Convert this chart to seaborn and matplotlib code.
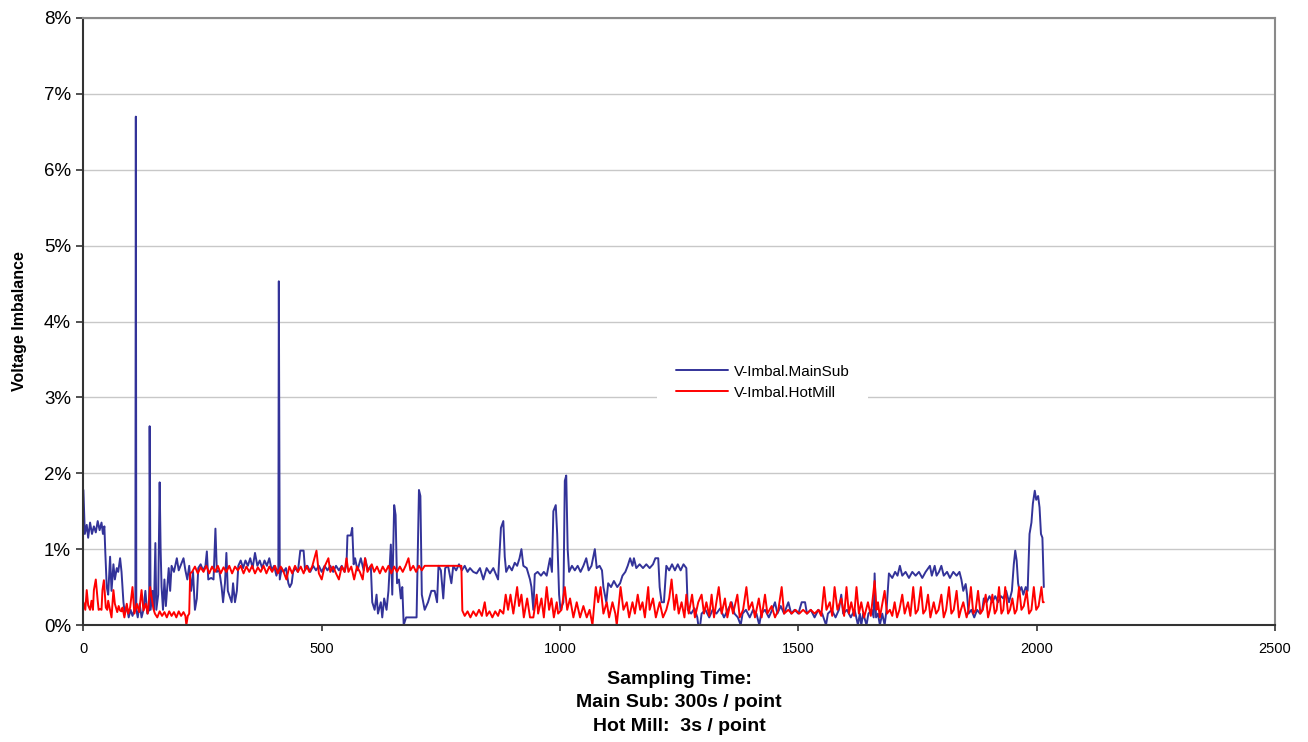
import numpy as np
import pandas as pd
import seaborn as sns
import matplotlib.pyplot as plt
from matplotlib.ticker import FuncFormatter, MultipleLocator

# sample index vs voltage imbalance in percent
main_x = [0, 3, 7, 10, 14, 18, 22, 26, 30, 34, 38, 41, 44, 46, 49, 52, 56, 59, 63, 66,
          70, 73, 77, 80, 84, 87, 91, 95, 99, 103, 107, 109, 110, 111, 114, 118, 122, 126, 130, 134,
          138, 139, 141, 145, 148, 151, 153, 157, 160, 162, 164, 167, 170, 173, 176, 179, 182, 185, 190, 196,
          200, 205, 210, 214, 218, 222, 226, 230, 234, 238, 241, 246, 251, 256, 259, 262, 268, 273, 277, 280,
          285, 290, 293, 297, 300, 303, 311, 314, 318, 322, 325, 330, 335, 340, 345, 350, 355, 360, 365, 370,
          375, 380, 385, 390, 395, 400, 405, 409, 410, 412, 416, 420, 425, 430, 433, 437, 440, 445, 450, 455,
          462, 465, 470, 476, 482, 488, 494, 500, 506, 512, 518, 524, 530, 536, 542, 548, 552, 554, 561, 564,
          567, 570, 575, 582, 588, 591, 597, 603, 606, 611, 615, 618, 624, 627, 631, 636, 640, 645, 648, 652,
          655, 658, 662, 666, 669, 672, 677, 690, 699, 704, 707, 710, 716, 723, 730, 737, 742, 745, 750, 755,
          759, 765, 772, 776, 782, 788, 794, 800, 806, 811, 818, 825, 832, 839, 846, 853, 860, 870, 876, 881,
          884, 887, 893, 899, 905, 910, 915, 919, 923, 930, 937, 940, 944, 947, 953, 960, 966, 972, 979, 983,
          986, 991, 994, 998, 1001, 1007, 1010, 1013, 1016, 1019, 1025, 1031, 1037, 1043, 1049, 1055, 1060, 1066, 1073, 1077,
          1083, 1088, 1091, 1097, 1101, 1107, 1113, 1120, 1126, 1131, 1137, 1142, 1147, 1152, 1155, 1160, 1167, 1174, 1181, 1188,
          1195, 1200, 1206, 1209, 1213, 1218, 1223, 1229, 1235, 1241, 1247, 1253, 1259, 1265, 1268, 1275, 1282, 1288, 1290, 1294,
          1297, 1305, 1313, 1320, 1328, 1336, 1344, 1352, 1360, 1366, 1373, 1379, 1383, 1390, 1398, 1405, 1412, 1418, 1422, 1430,
          1438, 1445, 1451, 1456, 1463, 1470, 1479, 1485, 1492, 1500, 1507, 1514, 1518, 1526, 1534, 1542, 1550, 1558, 1562, 1570,
          1578, 1585, 1590, 1594, 1602, 1610, 1618, 1625, 1629, 1632, 1636, 1643, 1647, 1654, 1658, 1660, 1663, 1667, 1671, 1676,
          1681, 1685, 1690, 1697, 1703, 1708, 1713, 1718, 1725, 1732, 1739, 1746, 1753, 1760, 1767, 1776, 1780, 1786, 1790, 1795,
          1800, 1805, 1812, 1818, 1825, 1832, 1838, 1842, 1846, 1851, 1854, 1857, 1863, 1869, 1875, 1881, 1886, 1889, 1895, 1901,
          1907, 1913, 1919, 1925, 1930, 1936, 1942, 1948, 1952, 1955, 1958, 1961, 1964, 1968, 1972, 1977, 1981, 1985, 1989, 1992,
          1996, 1999, 2003, 2006, 2009, 2012, 2015]
main_y = [1.78, 1.2, 1.32, 1.15, 1.35, 1.2, 1.3, 1.22, 1.37, 1.25, 1.35, 1.2, 1.3, 0.95, 0.5, 0.4, 0.9, 0.45, 0.8, 0.6,
          0.75, 0.7, 0.88, 0.7, 0.3, 0.15, 0.25, 0.1, 0.2, 0.12, 0.2, 0.2, 6.7, 0.2, 0.1, 0.28, 0.1, 0.2, 0.45, 0.15,
          0.2, 2.62, 0.2, 0.45, 0.2, 1.08, 0.2, 0.4, 1.88, 1.0, 0.5, 0.2, 0.6, 0.25, 0.5, 0.75, 0.45, 0.78, 0.7, 0.88,
          0.72, 0.8, 0.88, 0.72, 0.6, 0.78, 0.45, 0.7, 0.2, 0.35, 0.75, 0.8, 0.72, 0.78, 0.97, 0.6, 0.62, 0.6, 1.27, 0.7,
          0.72, 0.5, 0.3, 0.55, 0.95, 0.45, 0.3, 0.55, 0.3, 0.45, 0.78, 0.85, 0.75, 0.85, 0.78, 0.88, 0.75, 0.95, 0.78, 0.85,
          0.75, 0.85, 0.78, 0.88, 0.72, 0.78, 0.65, 0.75, 4.53, 0.6, 0.75, 0.7, 0.75, 0.55, 0.5, 0.55, 0.7, 0.75, 0.7, 0.98,
          0.98, 0.72, 0.78, 0.7, 0.78, 0.72, 0.78, 0.7, 0.78, 0.72, 0.78, 0.7, 0.78, 0.72, 0.78, 0.7, 0.8, 1.18, 1.18, 1.28,
          0.8, 0.88, 0.72, 0.88, 0.72, 0.88, 0.72, 0.78, 0.3, 0.2, 0.4, 0.15, 0.3, 0.1, 0.35, 0.2, 0.45, 1.06, 0.4, 1.58,
          1.45, 0.55, 0.6, 0.35, 0.5, 0.0, 0.1, 0.1, 0.1, 1.78, 1.7, 0.4, 0.2, 0.3, 0.45, 0.45, 0.3, 0.78, 0.72, 0.35,
          0.75, 0.78, 0.55, 0.78, 0.72, 0.8, 0.72, 0.78, 0.7, 0.75, 0.7, 0.68, 0.75, 0.6, 0.75, 0.68, 0.75, 0.6, 1.28, 1.37,
          0.9, 0.7, 0.78, 0.72, 0.82, 0.78, 0.88, 1.0, 0.78, 0.75, 0.6, 0.5, 0.2, 0.67, 0.7, 0.65, 0.7, 0.65, 0.88, 0.7,
          1.5, 1.58, 1.2, 0.4, 0.2, 0.3, 1.9, 1.97, 1.0, 0.7, 0.78, 0.72, 0.78, 0.7, 0.78, 0.88, 0.72, 0.78, 1.0, 0.75,
          0.78, 0.72, 0.5, 0.3, 0.55, 0.5, 0.58, 0.5, 0.55, 0.65, 0.7, 0.78, 0.88, 0.78, 0.88, 0.75, 0.8, 0.75, 0.8, 0.75,
          0.8, 0.88, 0.88, 0.5, 0.3, 0.3, 0.78, 0.72, 0.8, 0.72, 0.8, 0.72, 0.8, 0.75, 0.2, 0.15, 0.22, 0.1, 0.0, 0.0,
          0.15, 0.2, 0.1, 0.2, 0.15, 0.22, 0.1, 0.2, 0.3, 0.15, 0.1, 0.0, 0.15, 0.2, 0.1, 0.2, 0.15, 0.0, 0.15, 0.2,
          0.1, 0.2, 0.3, 0.15, 0.25, 0.15, 0.3, 0.15, 0.2, 0.15, 0.3, 0.3, 0.15, 0.2, 0.1, 0.2, 0.15, 0.0, 0.15, 0.2,
          0.1, 0.2, 0.4, 0.15, 0.2, 0.1, 0.2, 0.0, 0.15, 0.0, 0.15, 0.0, 0.15, 0.2, 0.1, 0.68, 0.1, 0.15, 0.0, 0.15,
          0.0, 0.2, 0.68, 0.62, 0.7, 0.65, 0.78, 0.65, 0.7, 0.62, 0.7, 0.65, 0.7, 0.62, 0.7, 0.78, 0.65, 0.78, 0.65, 0.7,
          0.78, 0.65, 0.7, 0.62, 0.7, 0.65, 0.7, 0.6, 0.45, 0.54, 0.4, 0.15, 0.2, 0.1, 0.2, 0.15, 0.2, 0.35, 0.3, 0.38,
          0.3, 0.38, 0.3, 0.38, 0.35, 0.45, 0.3, 0.45, 0.8, 0.98, 0.85, 0.55, 0.45, 0.5, 0.4, 0.5, 0.45, 1.2, 1.35, 1.6,
          1.77, 1.65, 1.7, 1.55, 1.2, 1.15, 0.5]

hot_x = [0, 4, 7, 10, 14, 17, 20, 22, 26, 30, 32, 35, 38, 40, 43, 47, 50, 52, 56, 59,
         63, 66, 71, 74, 77, 80, 82, 86, 91, 94, 98, 103, 107, 112, 117, 122, 126, 131, 135, 140,
         143, 147, 150, 155, 160, 165, 170, 175, 180, 185, 190, 195, 200, 205, 210, 214, 216, 219, 222, 224,
         228, 234, 240, 246, 252, 258, 264, 270, 276, 282, 288, 294, 300, 306, 312, 318, 324, 330, 336, 342,
         348, 354, 360, 366, 372, 378, 384, 390, 396, 402, 408, 414, 420, 426, 432, 438, 444, 450, 456, 462,
         468, 474, 480, 489, 494, 500, 506, 514, 518, 524, 530, 536, 542, 548, 552, 556, 562, 568, 574, 580,
         586, 591, 596, 602, 605, 610, 616, 622, 628, 634, 640, 646, 652, 658, 664, 670, 676, 682, 686, 692,
         698, 704, 710, 716, 722, 793, 795, 800, 806, 812, 818, 824, 830, 836, 842, 846, 852, 858, 864, 870,
         874, 881, 886, 891, 896, 902, 910, 914, 919, 924, 931, 937, 944, 951, 954, 961, 966, 972, 977, 982,
         987, 993, 996, 1003, 1010, 1015, 1021, 1028, 1035, 1042, 1049, 1056, 1062, 1068, 1075, 1080, 1085, 1091, 1098, 1103,
         1110, 1116, 1119, 1127, 1133, 1140, 1145, 1152, 1157, 1163, 1168, 1173, 1178, 1185, 1188, 1195, 1201, 1209, 1216, 1223,
         1229, 1234, 1240, 1244, 1249, 1255, 1261, 1265, 1270, 1277, 1283, 1290, 1297, 1302, 1307, 1313, 1318, 1323, 1333, 1339,
         1346, 1351, 1358, 1363, 1372, 1377, 1384, 1391, 1396, 1403, 1409, 1417, 1423, 1430, 1435, 1444, 1451, 1458, 1465, 1470,
         1479, 1486, 1494, 1502, 1510, 1518, 1526, 1534, 1542, 1548, 1554, 1559, 1566, 1571, 1576, 1582, 1590, 1596, 1601, 1606,
         1611, 1617, 1622, 1627, 1632, 1638, 1646, 1652, 1660, 1664, 1667, 1671, 1681, 1686, 1692, 1697, 1702, 1707, 1712, 1718,
         1723, 1730, 1735, 1741, 1746, 1751, 1757, 1762, 1767, 1772, 1777, 1784, 1789, 1794, 1800, 1805, 1810, 1816, 1821, 1826,
         1832, 1837, 1841, 1846, 1853, 1857, 1862, 1867, 1872, 1877, 1882, 1887, 1893, 1898, 1902, 1907, 1912, 1916, 1921, 1926,
         1930, 1934, 1940, 1944, 1949, 1954, 1958, 1963, 1968, 1973, 1979, 1984, 1989, 1994, 1999, 2004, 2010, 2013, 2015]
hot_y = [0.3, 0.2, 0.46, 0.26, 0.2, 0.32, 0.2, 0.46, 0.6, 0.32, 0.2, 0.21, 0.2, 0.46, 0.59, 0.23, 0.2, 0.32, 0.19, 0.1,
         0.46, 0.28, 0.17, 0.25, 0.19, 0.18, 0.23, 0.1, 0.28, 0.15, 0.23, 0.5, 0.15, 0.28, 0.17, 0.46, 0.19, 0.28, 0.15, 0.5,
         0.37, 0.21, 0.15, 0.1, 0.18, 0.12, 0.17, 0.1, 0.18, 0.12, 0.17, 0.1, 0.18, 0.12, 0.17, 0.12, 0.0, 0.12, 0.15, 0.68,
         0.7, 0.77, 0.68, 0.76, 0.7, 0.78, 0.68, 0.77, 0.7, 0.78, 0.68, 0.76, 0.7, 0.78, 0.68, 0.77, 0.72, 0.78, 0.68, 0.77,
         0.7, 0.78, 0.68, 0.76, 0.7, 0.78, 0.68, 0.77, 0.7, 0.78, 0.68, 0.77, 0.7, 0.6, 0.77, 0.68, 0.78, 0.7, 0.77, 0.68,
         0.78, 0.7, 0.77, 0.98, 0.68, 0.6, 0.77, 0.88, 0.7, 0.77, 0.68, 0.6, 0.77, 0.7, 0.88, 0.7, 0.77, 0.6, 0.77, 0.7,
         0.6, 0.88, 0.7, 0.77, 0.8, 0.7, 0.77, 0.68, 0.77, 0.7, 0.78, 0.68, 0.77, 0.7, 0.77, 0.7, 0.78, 0.88, 0.72, 0.78,
         0.7, 0.78, 0.72, 0.78, 0.78, 0.78, 0.19, 0.12, 0.18, 0.1, 0.18, 0.12, 0.2, 0.12, 0.3, 0.12, 0.18, 0.1, 0.18, 0.12,
         0.2, 0.15, 0.4, 0.2, 0.4, 0.15, 0.5, 0.25, 0.4, 0.1, 0.35, 0.1, 0.1, 0.4, 0.15, 0.35, 0.1, 0.5, 0.2, 0.35,
         0.1, 0.3, 0.15, 0.2, 0.5, 0.2, 0.35, 0.1, 0.3, 0.1, 0.25, 0.1, 0.2, 0.0, 0.5, 0.3, 0.5, 0.15, 0.3, 0.1,
         0.3, 0.15, 0.0, 0.5, 0.2, 0.3, 0.1, 0.3, 0.15, 0.4, 0.2, 0.3, 0.1, 0.5, 0.2, 0.35, 0.1, 0.3, 0.1, 0.2,
         0.35, 0.6, 0.2, 0.4, 0.15, 0.3, 0.1, 0.4, 0.15, 0.4, 0.1, 0.3, 0.4, 0.15, 0.3, 0.12, 0.4, 0.1, 0.5, 0.15,
         0.35, 0.1, 0.3, 0.15, 0.4, 0.1, 0.2, 0.5, 0.2, 0.3, 0.1, 0.35, 0.1, 0.4, 0.15, 0.25, 0.1, 0.2, 0.5, 0.15,
         0.2, 0.15, 0.2, 0.15, 0.2, 0.15, 0.2, 0.15, 0.2, 0.12, 0.5, 0.2, 0.3, 0.12, 0.5, 0.2, 0.35, 0.12, 0.5, 0.15,
         0.3, 0.12, 0.5, 0.15, 0.3, 0.1, 0.3, 0.12, 0.58, 0.2, 0.3, 0.1, 0.45, 0.15, 0.2, 0.12, 0.3, 0.1, 0.2, 0.4,
         0.15, 0.3, 0.12, 0.5, 0.15, 0.2, 0.5, 0.15, 0.2, 0.4, 0.1, 0.3, 0.15, 0.2, 0.4, 0.1, 0.2, 0.5, 0.15, 0.2,
         0.45, 0.1, 0.2, 0.3, 0.1, 0.2, 0.5, 0.15, 0.2, 0.45, 0.15, 0.2, 0.4, 0.1, 0.2, 0.4, 0.15, 0.2, 0.5, 0.15,
         0.2, 0.5, 0.15, 0.2, 0.35, 0.15, 0.2, 0.5, 0.2, 0.25, 0.45, 0.15, 0.2, 0.5, 0.2, 0.25, 0.5, 0.3, 0.3]

series_names = ["V-Imbal.MainSub", "V-Imbal.HotMill"]
series_colors = ["#333399", "#FF0000"]

main_df = pd.DataFrame({"t": main_x, "v": main_y})
hot_df = pd.DataFrame({"t": hot_x, "v": hot_y})

sns.set_style("white")
plt.rcParams["font.family"] = ["Liberation Sans", "DejaVu Sans"]
plt.rcParams["text.color"] = "black"
plt.rcParams["axes.labelcolor"] = "black"
plt.rcParams["xtick.color"] = "black"
plt.rcParams["ytick.color"] = "black"

fig = plt.figure(figsize=(13.08, 7.42), dpi=100)
ax = fig.add_axes([83.4 / 1308, 117 / 742, (1275 - 83.4) / 1308, 607 / 742])

sns.lineplot(data=main_df, x="t", y="v", ax=ax, color=series_colors[0], lw=1.4,
             estimator=None, sort=False, label=series_names[0])
sns.lineplot(data=hot_df, x="t", y="v", ax=ax, color=series_colors[1], lw=1.4,
             estimator=None, sort=False, label=series_names[1])

ax.set_xlim(0, 2500)
ax.set_ylim(0, 8)
ax.xaxis.set_major_locator(MultipleLocator(500))
ax.yaxis.set_major_locator(MultipleLocator(1))
ax.yaxis.set_major_formatter(FuncFormatter(lambda v, p: f"{v:.0f}%"))
ax.grid(axis="y", color="#c8c8c8", lw=1.0)
ax.set_axisbelow(True)

for side in ["top", "right"]:
    ax.spines[side].set_color("#8a8a8a")
    ax.spines[side].set_linewidth(1.5)
for side in ["left", "bottom"]:
    ax.spines[side].set_color("#333333")
    ax.spines[side].set_linewidth(1.5)

ax.tick_params(axis="y", direction="out", length=5, width=1.2, color="#333333",
               labelsize=13.5, pad=4, left=True, labelcolor="black")
ax.tick_params(axis="x", direction="out", length=4, width=1.2, color="#333333",
               labelsize=10.5, pad=8, bottom=True, labelcolor="black")

ax.set_xlabel("Sampling Time:\nMain Sub: 300s / point\nHot Mill:  3s / point",
              fontsize=14, fontweight="bold", labelpad=11, linespacing=1.5, color="black")
ax.set_ylabel("Voltage Imbalance", fontsize=11.5, fontweight="bold", labelpad=12, color="black")

leg = ax.legend(loc="center", bbox_to_anchor=(0.570, 0.400), frameon=True,
                fontsize=11, handlelength=3.4, borderpad=1.2, labelspacing=0.45,
                handletextpad=0.4, borderaxespad=0)
leg.get_frame().set_facecolor("white")
leg.get_frame().set_edgecolor("none")
leg.get_frame().set_alpha(1)
leg.get_frame().set_boxstyle("square", pad=0)

fig.savefig("out.png", dpi=100)
